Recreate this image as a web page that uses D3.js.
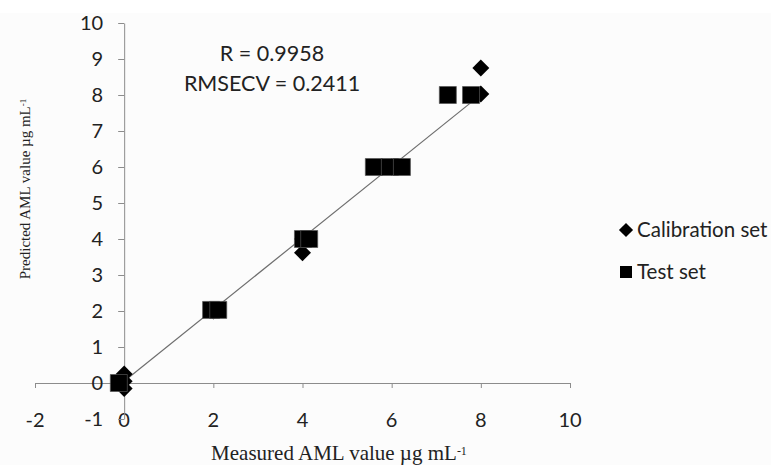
<!DOCTYPE html>
<html>
<head>
<meta charset="utf-8">
<script src="https://cdn.jsdelivr.net/npm/d3@7"></script>
<style>
  body { margin: 0; background: #fff; }
  svg text { fill: #222; }
</style>
</head>
<body>
<div id="chart"></div>
<script>
// data
var calibX = [0, 0, 0, 2, 2, 4, 4, 6, 6, 8, 8];
var calibY = [0.25, -0.15, 0.05, 2.0, 2.02, 3.62, 4.0, 6.0, 6.0, 8.03, 8.75];
var testX = [-0.12, 1.95, 2.11, 4.01, 4.15, 5.6, 5.96, 6.23, 7.26, 7.78];
var testY = [0, 2.03, 2.03, 4.0, 4.0, 6.0, 6.0, 6.0, 8.0, 8.0];
var xTicks = [-2, 0, 2, 4, 6, 8, 10];
var yTicks = [-1, 0, 1, 2, 3, 4, 5, 6, 7, 8, 9, 10];
var trendSlope = 0.995, trendIntercept = 0.05, trendRange = [0, 8];
var statLines = ["R = 0.9958", "RMSECV = 0.2411"];
var seriesNames = ["Calibration set", "Test set"];

var width = 771, height = 465;
var sansFont = "Lato, 'Open Sans', sans-serif";
var serifFont = "'Liberation Serif', 'DejaVu Serif', serif";
var axisColor = "#8c8c8c";

var x = d3.scaleLinear().domain([-2, 10]).range([35, 570]);
var y = d3.scaleLinear().domain([-1, 10]).range([419, 23]);

var svg = d3.select("#chart").append("svg")
    .attr("width", width)
    .attr("height", height);

// faint chart background, like the scanned figure
svg.append("rect")
    .attr("x", 0).attr("y", 13)
    .attr("width", width).attr("height", height - 13)
    .attr("fill", "#fcfcfc");

// x axis crosses at y = 0, labels sit at the bottom
var xAxis = d3.axisBottom(x)
    .tickValues(xTicks)
    .tickSize(5)
    .tickSizeOuter(0)
    .tickFormat("");

var gx = svg.append("g")
    .attr("transform", "translate(0," + y(0) + ")")
    .call(xAxis);
gx.select(".domain").attr("stroke", axisColor);
gx.selectAll(".tick line").attr("stroke", axisColor);

svg.append("g").selectAll("text")
    .data(xTicks)
    .enter().append("text")
    .attr("x", d => x(d))
    .attr("y", y(-1) + 1)
    .attr("dy", "0.35em")
    .attr("text-anchor", "middle")
    .style("font-family", sansFont)
    .style("font-size", "20px")
    .text(d => d);

// y axis crosses at x = 0
var yAxis = d3.axisLeft(y)
    .tickValues(yTicks)
    .tickSize(6)
    .tickSizeOuter(0)
    .tickPadding(15)
    .tickFormat(d => d);

var gy = svg.append("g")
    .attr("transform", "translate(" + x(0) + ",0)")
    .call(yAxis);
gy.select(".domain").attr("stroke", axisColor);
gy.selectAll(".tick line").attr("stroke", axisColor);
gy.selectAll(".tick text")
    .style("font-family", sansFont)
    .style("font-size", "20px")
    .attr("fill", "#222");

// trend line
var trendLine = d3.line()
    .x(d => x(d))
    .y(d => y(trendIntercept + trendSlope * d));

svg.append("path")
    .datum(trendRange)
    .attr("d", trendLine)
    .attr("fill", "none")
    .attr("stroke", "#6e6e6e")
    .attr("stroke-width", 1.2);

// calibration set: diamonds (rotated squares)
var diamond = d3.symbol().type(d3.symbolSquare).size(144);
svg.append("g").selectAll("path")
    .data(d3.zip(calibX, calibY))
    .enter().append("path")
    .attr("d", diamond)
    .attr("transform", d => "translate(" + x(d[0]) + "," + y(d[1]) + ") rotate(45)")
    .attr("fill", "#000");

// test set: squares
var square = d3.symbol().type(d3.symbolSquare).size(289);
svg.append("g").selectAll("path")
    .data(d3.zip(testX, testY))
    .enter().append("path")
    .attr("d", square)
    .attr("transform", d => "translate(" + x(d[0]) + "," + y(d[1]) + ")")
    .attr("fill", "#000")
    .attr("stroke", "#555")
    .attr("stroke-width", 0.7);

// statistics text
svg.append("g").selectAll("text")
    .data(statLines)
    .enter().append("text")
    .attr("x", 272)
    .attr("y", (d, i) => 53 + i * 30)
    .attr("dy", "0.35em")
    .attr("text-anchor", "middle")
    .style("font-family", sansFont)
    .style("font-size", "21.5px")
    .text(d => d);

// legend
var legend = svg.selectAll(".legend")
    .data(seriesNames)
    .enter().append("g")
    .attr("class", "legend")
    .attr("transform", (d, i) => "translate(626," + (230 + i * 42) + ")");

legend.append("path")
    .attr("d", (d, i) => i === 0
        ? d3.symbol().type(d3.symbolSquare).size(100)()
        : d3.symbol().type(d3.symbolSquare).size(144)())
    .attr("transform", (d, i) => i === 0 ? "rotate(45)" : null)
    .attr("fill", "#000");

legend.append("text")
    .attr("x", 11)
    .attr("dy", "0.35em")
    .style("font-family", sansFont)
    .style("font-size", "20.5px")
    .text(d => d);

// axis titles
var xTitle = svg.append("text")
    .attr("x", 339)
    .attr("y", 460)
    .attr("text-anchor", "middle")
    .style("font-family", serifFont)
    .style("font-size", "21px");
xTitle.append("tspan").text("Measured AML value \u00b5g mL");
xTitle.append("tspan").attr("dy", "-0.45em").style("font-size", "12px").text("-1");

var yTitle = svg.append("text")
    .attr("transform", "translate(30,189) rotate(-90)")
    .attr("text-anchor", "middle")
    .style("font-family", serifFont)
    .style("font-size", "15px");
yTitle.append("tspan").text("Predicted AML value \u00b5g mL");
yTitle.append("tspan").attr("dy", "-0.45em").style("font-size", "9px").text("-1");
</script>
</body>
</html>
